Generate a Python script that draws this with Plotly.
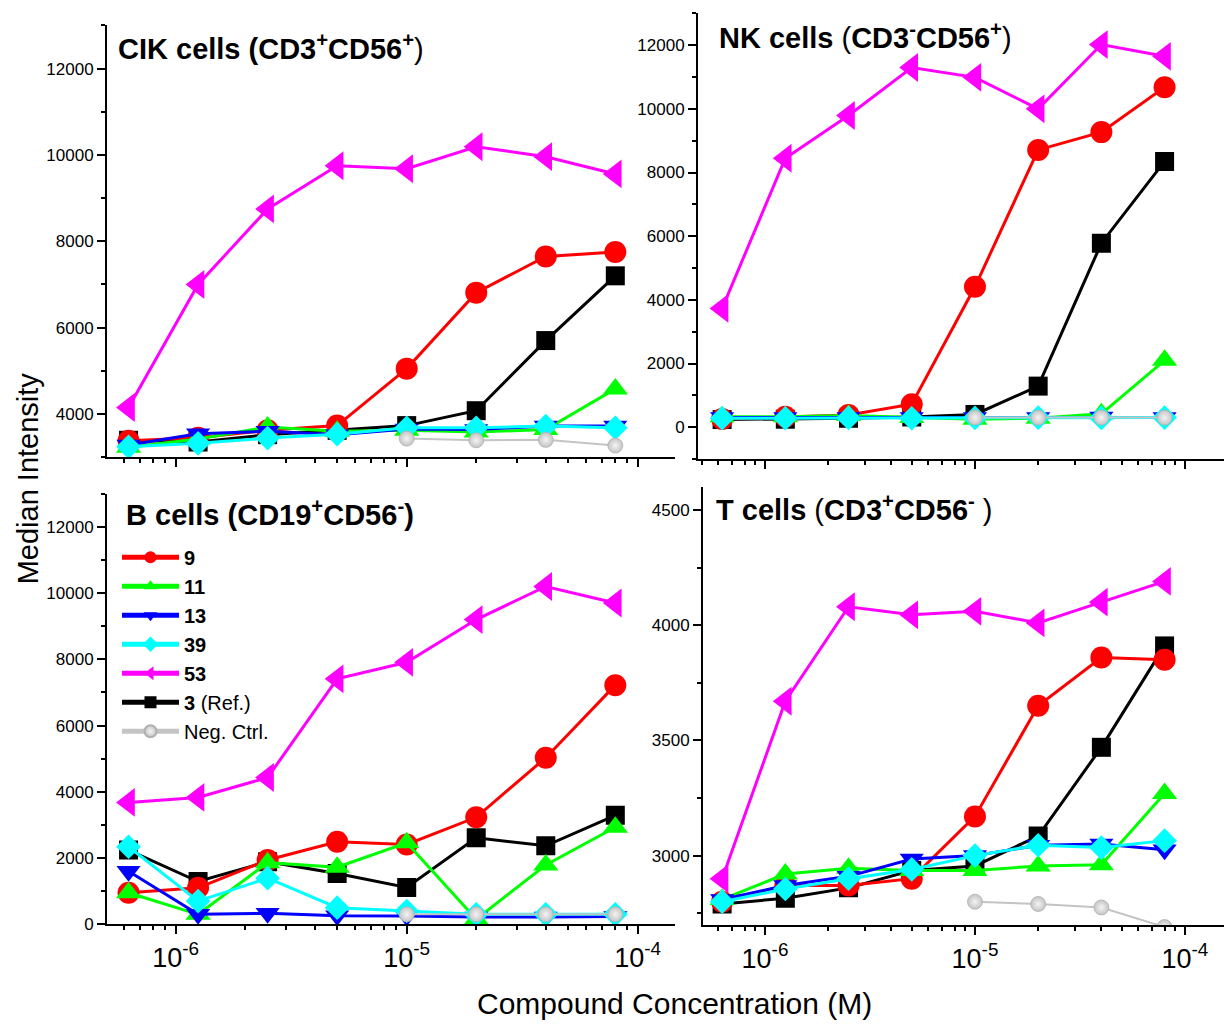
import plotly.graph_objects as go

W, H = 1224, 1030

# ---------------- data ----------------
conc = [6.25e-7, 1.25e-6, 2.5e-6, 5e-6, 1e-5, 2e-5, 4e-5, 8e-5]

# CIK cells (CD3+CD56+)
cik_9 = [3380, 3450, 3620, 3730, 5050, 6810, 7650, 7750]
cik_11 = [3230, 3420, 3700, 3600, 3620, 3580, 3640, 4580]
cik_13 = [3280, 3540, 3600, 3520, 3650, 3640, 3720, 3720]
cik_39 = [3240, 3320, 3440, 3530, 3680, 3680, 3720, 3680]
cik_53 = [4150, 7000, 8750, 9750, 9680, 10190, 9960, 9560]
cik_3 = [3390, 3350, 3520, 3620, 3730, 4075, 5700, 7200]
cik_neg = [None, None, None, None, 3430, 3390, 3400, 3270]

# NK cells (CD3-CD56+)
nk_9 = [260, 330, 380, 720, 4410, 8710, 9270, 10680]
nk_11 = [330, 330, 370, 300, 250, 280, 420, 2100]
nk_13 = [300, 300, 300, 300, 300, 300, 320, 300]
nk_39 = [280, 280, 290, 280, 290, 300, 290, 300]
nk_53 = [3730, 8450, 9790, 11300, 10990, 10000, 12020, 11650]
nk_3 = [240, 250, 280, 320, 400, 1290, 5780, 8350]
nk_neg = [None, None, None, None, 300, 300, 300, 300]

# B cells (CD19+CD56-)
b_9 = [950, 1100, 1940, 2490, 2410, 3230, 5030, 7220]
b_11 = [950, 300, 1860, 1720, 2460, 150, 1790, 2930]
b_13 = [1600, 300, 330, 260, 250, 220, 220, 230]
b_39 = [2340, 700, 1390, 500, 400, 300, 300, 300]
b_53 = [3680, 3830, 4430, 7410, 7910, 9200, 10200, 9700]
b_3 = [2240, 1290, 1890, 1530, 1110, 2610, 2370, 3290]
b_neg = [None, None, None, None, 300, 300, 300, 300]

# T cells (CD3+CD56-)
t_9 = [2800, 2870, 2870, 2900, 3170, 3650, 3860, 3850]
t_11 = [2810, 2920, 2945, 2935, 2935, 2955, 2960, 3270]
t_13 = [2810, 2870, 2910, 2985, 3000, 3045, 3050, 3025]
t_39 = [2800, 2855, 2900, 2940, 3000, 3045, 3035, 3065]
t_53 = [2900, 3670, 4080, 4045, 4060, 4010, 4100, 4190]
t_3 = [2790, 2815, 2860, 2935, 2955, 3085, 3470, 3910]
t_neg = [None, None, None, None, 2800, 2790, 2775, 2690]

x_ticks = [1e-6, 1e-5, 1e-4]
x_ticktext = ["10<sup>-6</sup>", "10<sup>-5</sup>", "10<sup>-4</sup>"]

legend_names = {
    "9": "<b>9</b>", "11": "<b>11</b>", "13": "<b>13</b>", "39": "<b>39</b>",
    "53": "<b>53</b>", "3": "<b>3</b> (Ref.)", "neg": "Neg. Ctrl.",
}
legend_rank = {"9": 1, "11": 2, "13": 3, "39": 4, "53": 5, "3": 6, "neg": 7}

# ---------------- styles ----------------
styles = {
    "3": dict(color="#000000", symbol="square", size=19),
    "9": dict(color="#ff0000", symbol="circle", size=22),
    "11": dict(color="#00ff00", symbol="triangle-up", size=22),
    "13": dict(color="#0000ff", symbol="triangle-down", size=21),
    "39": dict(color="#00ffff", symbol="diamond", size=19),
    "53": dict(color="#ff00ff", symbol="triangle-left", size=25),
    "neg": dict(color="#c4c4c4", symbol="circle", size=15),
}
draw_order = ["3", "9", "11", "13", "39", "53", "neg"]

panels = [
    dict(key="cik", data={"9": cik_9, "11": cik_11, "13": cik_13, "39": cik_39, "53": cik_53, "3": cik_3, "neg": cik_neg},
         ax="", xpx=(107, 675), ypx=(25.7, 461.6), xr=(-6.2974, -3.8385), yr=(3000, 13000), dt=2000, mdt=1000,
         title="<b>CIK cells (CD3<sup>+</sup>CD56<sup>+</sup></b>)", tpos=(116, 47), legend=False, xlabels=False),
    dict(key="nk", data={"9": nk_9, "11": nk_11, "13": nk_13, "39": nk_39, "53": nk_53, "3": nk_3, "neg": nk_neg},
         ax="2", xpx=(698, 1224), ypx=(13.5, 463.5), xr=(-6.319, -3.814), yr=(-1000, 13000), dt=2000, mdt=1000,
         title="<b>NK cells </b>(<b>CD3<sup>-</sup>CD56<sup>+</sup></b>)", tpos=(717, 36), legend=False, xlabels=False),
    dict(key="b", data={"9": b_9, "11": b_11, "13": b_13, "39": b_39, "53": b_53, "3": b_3, "neg": b_neg},
         ax="3", xpx=(107, 675), ypx=(498.6, 933.3), xr=(-6.2974, -3.8385), yr=(0, 13000), dt=2000, mdt=1000,
         title="<b>B cells (CD19<sup>+</sup>CD56<sup>-</sup>)</b>", tpos=(124, 518), legend=True, xlabels=True),
    dict(key="t", data={"9": t_9, "11": t_11, "13": t_13, "39": t_39, "53": t_53, "3": t_3, "neg": t_neg},
         ax="4", xpx=(703, 1224), ypx=(491.7, 934.5), xr=(-6.2952, -3.814), yr=(2697, 4600), dt=500, mdt=250,
         title="<b>T cells </b>(<b>CD3<sup>+</sup>CD56<sup>-</sup></b> )", tpos=(714, 513), legend=False, xlabels=True),
]

FONT = "Liberation Sans, Arial, sans-serif"

fig = go.Figure()
annotations = []
layout_axes = {}

for p in panels:
    ax = p["ax"]
    for k in draw_order:
        st = styles[k]
        marker = dict(color=st["color"], symbol=st["symbol"], size=st["size"], line=dict(width=0))
        lw = 3
        if k == "neg":
            marker["gradient"] = dict(type="radial", color="#f4f4f4")
            marker["line"] = dict(width=0.8, color="#b0b0b0")
            lw = 2
        fig.add_trace(go.Scatter(
            x=conc, y=p["data"][k], mode="lines+markers",
            name=legend_names[k], legendrank=legend_rank[k],
            showlegend=p["legend"],
            line=dict(color=st["color"], width=lw),
            marker=marker,
            xaxis="x" + ax, yaxis="y" + ax,
        ))
    x0, x1 = p["xpx"]
    y0, y1 = p["ypx"]
    layout_axes["xaxis" + ax] = dict(
        domain=[x0 / W, x1 / W], anchor="y" + ax, type="log", range=list(p["xr"]),
        tickmode="array", tickvals=x_ticks, ticktext=x_ticktext,
        showticklabels=p["xlabels"],
        showline=True, linecolor="black", linewidth=2,
        ticks="outside", ticklen=8, tickwidth=2, tickcolor="black",
        minor=dict(ticks="outside", ticklen=4, tickwidth=1.5, tickcolor="black", dtick="D1"),
        showgrid=False, zeroline=False,
        tickfont=dict(family=FONT, size=27, color="black"),
    )
    layout_axes["yaxis" + ax] = dict(
        domain=[1 - y1 / H, 1 - y0 / H], anchor="x" + ax, range=list(p["yr"]),
        tick0=0, dtick=p["dt"], tickformat="d",
        showline=True, linecolor="black", linewidth=2,
        ticks="outside", ticklen=8, tickwidth=2, tickcolor="black",
        minor=dict(ticks="outside", ticklen=4, tickwidth=1.5, tickcolor="black", dtick=p["mdt"], tick0=0),
        showgrid=False, zeroline=False,
        tickfont=dict(family=FONT, size=17, color="black"),
    )
    annotations.append(dict(
        text=p["title"], x=p["tpos"][0] / W, y=1 - p["tpos"][1] / H,
        xref="paper", yref="paper", xanchor="left", yanchor="middle", showarrow=False,
        font=dict(family=FONT, size=29, color="black"),
    ))

annotations.append(dict(
    text="Median Intensity", x=28 / W, y=1 - 483 / H, xref="paper", yref="paper",
    textangle=-90, showarrow=False, xanchor="center", yanchor="middle",
    font=dict(family=FONT, size=29, color="black"),
))
annotations.append(dict(
    text="Compound Concentration (M)", x=674 / W, y=1 - 1013 / H, xref="paper", yref="paper",
    showarrow=False, xanchor="center", yanchor="middle",
    font=dict(family=FONT, size=30, color="black"),
))

fig.update_layout(
    width=W, height=H,
    margin=dict(l=0, r=0, t=0, b=0),
    paper_bgcolor="white", plot_bgcolor="white",
    showlegend=True,
    legend=dict(
        x=117 / W, y=1 - 543 / H, xanchor="left", yanchor="top",
        bgcolor="rgba(0,0,0,0)", borderwidth=0,
        font=dict(family=FONT, size=20, color="black"),
        itemwidth=57, itemsizing="constant", tracegroupgap=0,
    ),
    annotations=annotations,
    **layout_axes,
)

fig.write_html("out.html", post_script="document.body.style.margin='0px';",
               config={"displayModeBar": False})
